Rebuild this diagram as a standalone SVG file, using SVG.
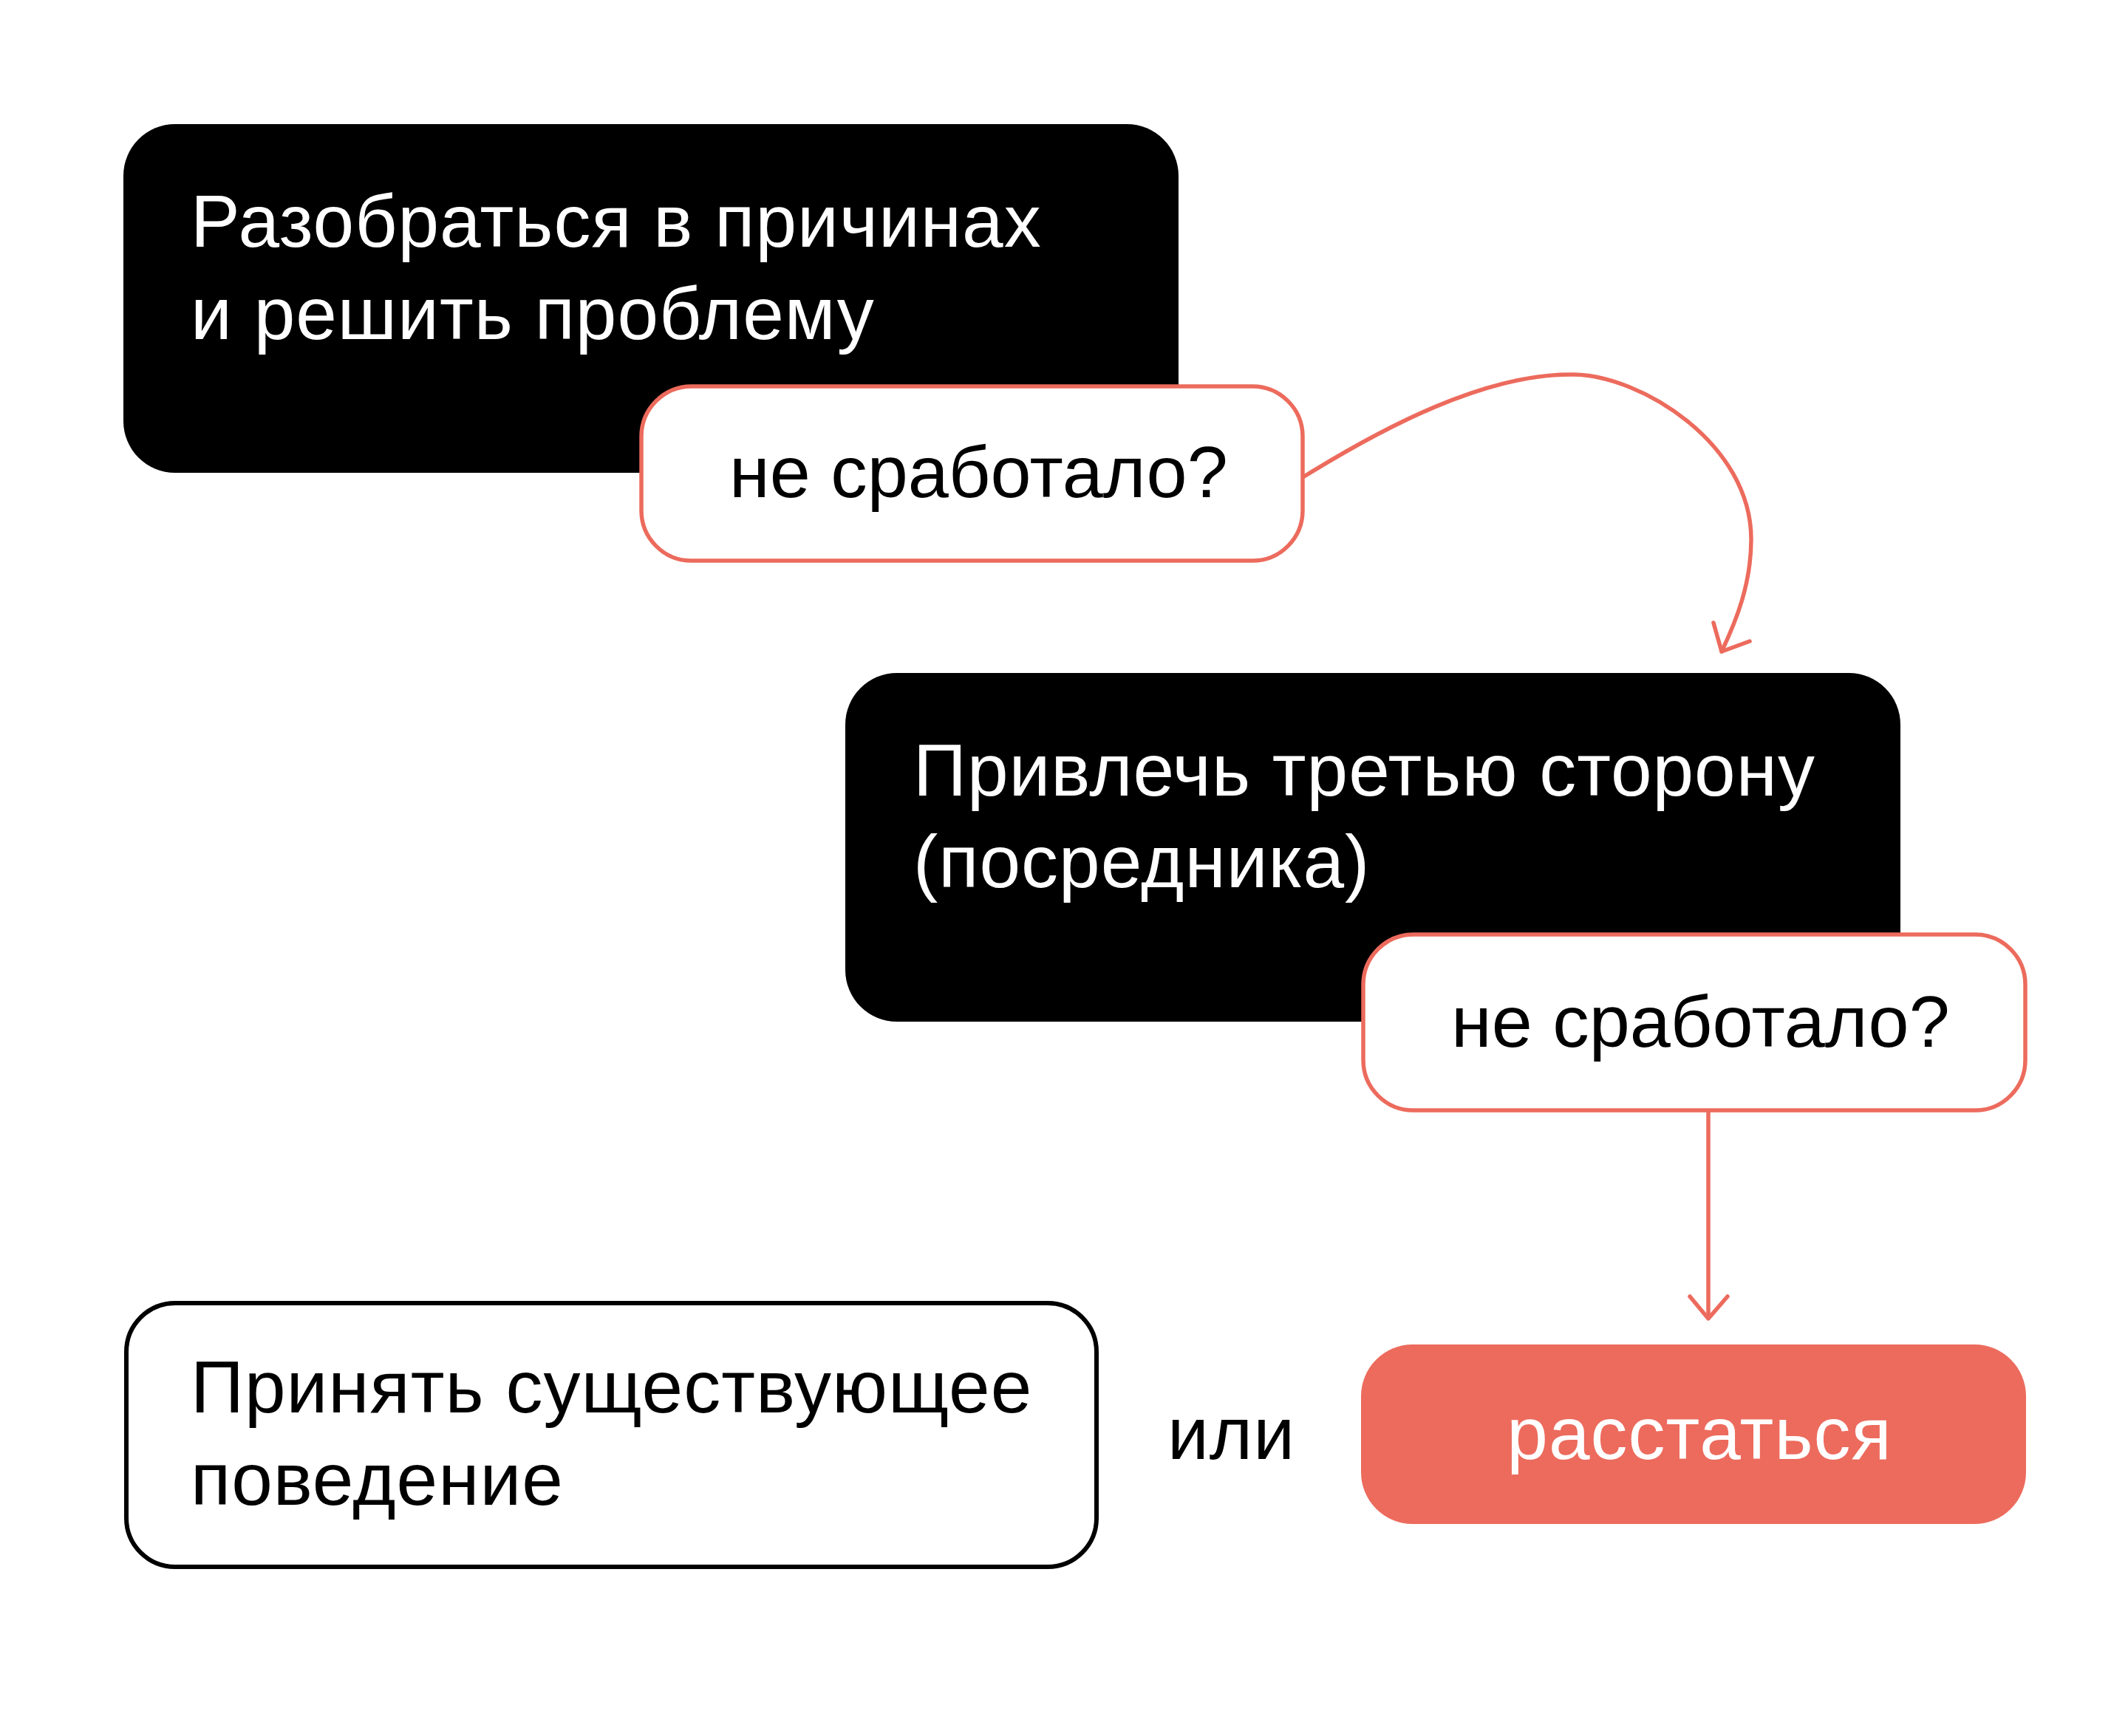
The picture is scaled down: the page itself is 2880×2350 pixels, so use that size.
<svg xmlns="http://www.w3.org/2000/svg" width="2880" height="2350" viewBox="0 0 2880 2350">
<style>
.t{font-family:"Liberation Sans",Arial,sans-serif;font-size:100px;letter-spacing:1px}
.q{font-family:"Liberation Sans",Arial,sans-serif;font-size:99px;letter-spacing:0px}
.w{fill:#ffffff}
.k{fill:#000000}
.blk{fill:#000000}
.lbl{fill:#ffffff;stroke:#EC6B5D;stroke-width:5.5}
.con{fill:none;stroke:#EC6B5D;stroke-width:5.5;stroke-linecap:round;stroke-linejoin:round}
</style>
<rect width="2880" height="2350" fill="#ffffff"/>
<g id="node-razobratsya">
<rect class="blk" x="167" y="168" width="1428" height="472" rx="70"/>
<text class="t w" x="258" y="334">Разобраться в причинах</text>
<text class="t w" x="258" y="459">и решить проблему</text>
</g>
<g id="node-ne-srabotalo-1">
<rect class="lbl" x="868" y="523" width="895" height="236" rx="68"/>
<text class="q k" x="987" y="673">не сработало?</text>
</g>
<g id="node-privlech">
<rect class="blk" x="1144" y="911" width="1428" height="472" rx="70"/>
<text class="t w" x="1236" y="1077">Привлечь третью сторону</text>
<text class="t w" x="1236" y="1201">(посредника)</text>
</g>
<g id="node-ne-srabotalo-2">
<rect class="lbl" x="1845" y="1265" width="896" height="238" rx="68"/>
<text class="q k" x="1964" y="1417">не сработало?</text>
</g>
<g id="node-prinyat">
<rect x="171" y="1764" width="1313" height="357" rx="66" fill="#ffffff" stroke="#000000" stroke-width="6"/>
<text class="t k" x="258" y="1912">Принять существующее</text>
<text class="t k" x="258" y="2037">поведение</text>
</g>
<g id="node-ili">
<text class="t k" x="1580" y="1975">или</text>
</g>
<g id="node-rasstatsya">
<rect x="1842" y="1820" width="900" height="243" rx="70" fill="#EC6B5D"/>
<text class="t w" x="2300" y="1975" text-anchor="middle">расстаться</text>
</g>
<g id="connectors">
<path class="con" d="M1765,645 C1870,580 2010,505 2130,507 C2220,508 2370,600 2370,730 C2370,790 2350,840 2330,882"/>
<path class="con" d="M2319,843 L2330,882 L2368,868"/>
<path class="con" d="M2312,1505 L2312,1783"/>
<path class="con" d="M2287,1755 L2312,1785 L2338,1755"/>
</g>
</svg>
